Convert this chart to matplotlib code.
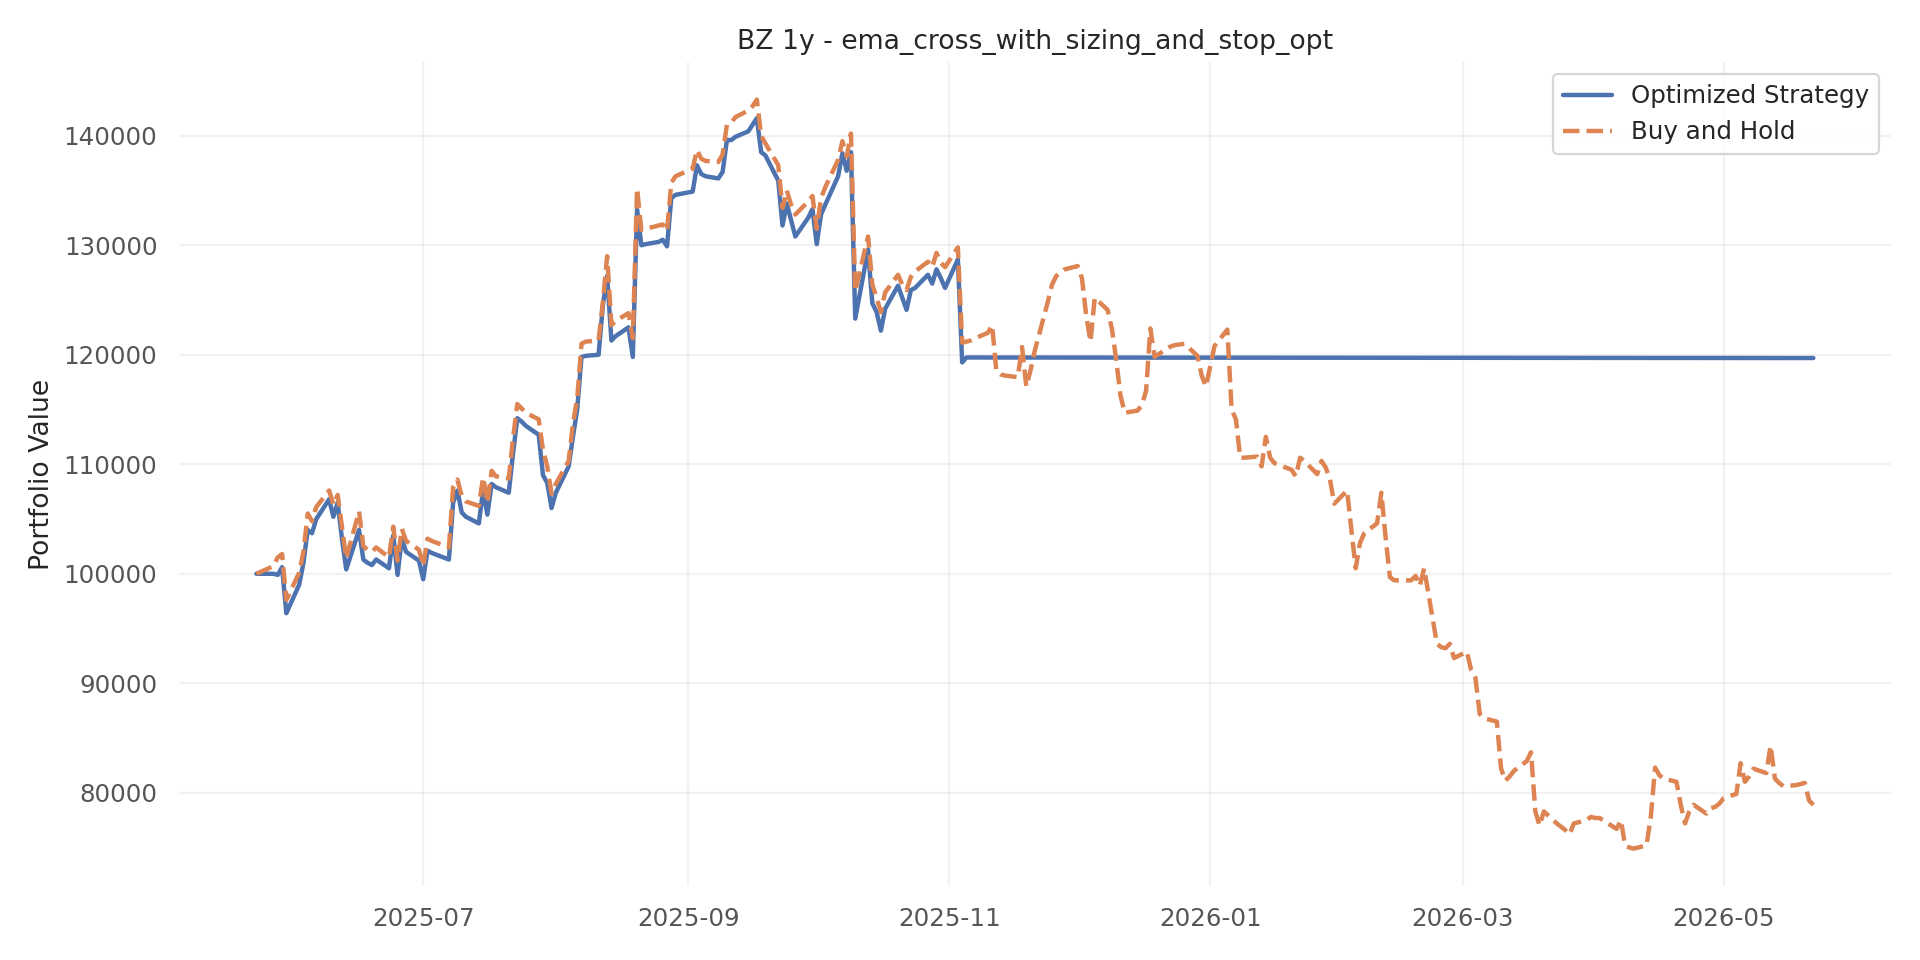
import matplotlib
matplotlib.use("Agg")
import matplotlib.pyplot as plt
import matplotlib.dates as mdates
import pandas as pd
import seaborn as sns

# ---------------- data ----------------
common_dates = [
    "2025-05-23", "2025-05-27", "2025-05-28", "2025-05-29", "2025-05-30",
    "2025-06-02", "2025-06-03", "2025-06-04", "2025-06-05", "2025-06-06",
    "2025-06-09", "2025-06-10", "2025-06-11", "2025-06-12", "2025-06-13",
    "2025-06-16", "2025-06-17", "2025-06-18", "2025-06-19", "2025-06-20",
    "2025-06-23", "2025-06-24", "2025-06-25", "2025-06-26", "2025-06-27",
    "2025-06-30", "2025-07-01", "2025-07-02", "2025-07-03", "2025-07-07",
    "2025-07-08", "2025-07-09", "2025-07-10", "2025-07-11", "2025-07-14",
    "2025-07-15", "2025-07-16", "2025-07-17", "2025-07-18", "2025-07-21",
    "2025-07-22", "2025-07-23", "2025-07-24", "2025-07-25", "2025-07-28",
    "2025-07-29", "2025-07-30", "2025-07-31", "2025-08-01", "2025-08-04",
    "2025-08-05", "2025-08-06", "2025-08-07", "2025-08-08", "2025-08-11",
    "2025-08-12", "2025-08-13", "2025-08-14", "2025-08-15", "2025-08-18",
    "2025-08-19", "2025-08-20", "2025-08-21", "2025-08-22", "2025-08-25",
    "2025-08-26", "2025-08-27", "2025-08-28", "2025-08-29", "2025-09-02",
    "2025-09-03", "2025-09-04", "2025-09-05", "2025-09-08", "2025-09-09",
    "2025-09-10", "2025-09-11", "2025-09-12", "2025-09-15", "2025-09-16",
    "2025-09-17", "2025-09-18", "2025-09-19", "2025-09-22", "2025-09-23",
    "2025-09-24", "2025-09-25", "2025-09-26", "2025-09-29", "2025-09-30",
    "2025-10-01", "2025-10-02", "2025-10-03", "2025-10-06", "2025-10-07",
    "2025-10-08", "2025-10-09", "2025-10-10", "2025-10-13", "2025-10-14",
    "2025-10-15", "2025-10-16", "2025-10-17", "2025-10-20", "2025-10-21",
    "2025-10-22", "2025-10-23", "2025-10-24", "2025-10-27", "2025-10-28",
    "2025-10-29", "2025-10-30", "2025-10-31", "2025-11-03", "2025-11-04",
    "2025-11-05",
]

strategy_common = [
    100000, 100000, 99900, 100600, 96400,
    99000, 101000, 104000, 103700, 105000,
    106800, 105200, 106500, 103200, 100400,
    104000, 101300, 101000, 100800, 101300,
    100500, 103500, 99900, 103200, 102000,
    101200, 99500, 102100, 101900, 101300,
    106500, 107600, 105600, 105200, 104600,
    107600, 105400, 108200, 107900, 107400,
    111000, 114200, 113900, 113500, 112700,
    109000, 108300, 106000, 107400, 109800,
    112500, 115000, 119800, 119900, 120000,
    124500, 127200, 121300, 121700, 122500,
    119800, 133300, 130000, 130100, 130300,
    130500, 129900, 134300, 134600, 134900,
    137300, 136500, 136300, 136100, 136700,
    139600, 139600, 139900, 140400, 141000,
    141600, 138500, 138200, 135900, 131800,
    133800, 132300, 130800, 132500, 133300,
    130100, 132800, 133700, 136300, 138400,
    136800, 138500, 123300, 129600, 124700,
    123900, 122200, 124200, 126300, 125200,
    124100, 125900, 126100, 127300, 126500,
    127800, 127000, 126100, 128700, 119300,
    119750,
]

buyhold_common = [
    100000, 100700, 101500, 101800, 97600,
    100100, 102000, 105500, 104800, 106100,
    107600, 106300, 107200, 104300, 101400,
    105700, 102500, 102200, 102000, 102400,
    101500, 104300, 101200, 104100, 103000,
    102200, 100700, 103200, 103000, 102400,
    107900, 108600, 107100, 106600, 106200,
    108800, 106500, 109400, 108900, 108700,
    112400, 115500, 115100, 114700, 114100,
    111300, 109800, 107300, 108200, 110300,
    113700, 116000, 121000, 121200, 121300,
    124800, 129000, 122700, 123100, 123800,
    121500, 135200, 131400, 131500, 131800,
    131900, 131300, 135700, 136300, 137000,
    138700, 137900, 137700, 137600, 138300,
    141000, 141200, 141700, 142300, 142700,
    143300, 140000, 139300, 137300, 133400,
    135000, 133700, 132800, 134000, 134500,
    131500, 134300, 135300, 137800, 139500,
    138100, 140200, 125800, 130800, 126400,
    125200, 123900, 125700, 127300, 126400,
    125900, 127100, 127600, 128500, 128000,
    129300, 128400, 128000, 129800, 121100,
    121200,
]

later_dates = [
    "2025-11-06", "2025-11-07", "2025-11-10", "2025-11-11", "2025-11-12",
    "2025-11-13", "2025-11-14", "2025-11-17", "2025-11-18", "2025-11-19",
    "2025-11-20", "2025-11-21", "2025-11-24", "2025-11-25", "2025-11-26",
    "2025-11-28", "2025-12-01", "2025-12-02", "2025-12-03", "2025-12-04",
    "2025-12-05", "2025-12-08", "2025-12-09", "2025-12-10", "2025-12-11",
    "2025-12-12", "2025-12-15", "2025-12-16", "2025-12-17", "2025-12-18",
    "2025-12-19", "2025-12-22", "2025-12-23", "2025-12-24", "2025-12-26",
    "2025-12-29", "2025-12-30", "2025-12-31", "2026-01-02", "2026-01-05",
    "2026-01-06", "2026-01-07", "2026-01-08", "2026-01-09", "2026-01-12",
    "2026-01-13", "2026-01-14", "2026-01-15", "2026-01-16", "2026-01-20",
    "2026-01-21", "2026-01-22", "2026-01-23", "2026-01-26", "2026-01-27",
    "2026-01-28", "2026-01-29", "2026-01-30", "2026-02-02", "2026-02-03",
    "2026-02-04", "2026-02-05", "2026-02-06", "2026-02-09", "2026-02-10",
    "2026-02-11", "2026-02-12", "2026-02-13", "2026-02-17", "2026-02-18",
    "2026-02-19", "2026-02-20", "2026-02-23", "2026-02-24", "2026-02-25",
    "2026-02-26", "2026-02-27", "2026-03-02", "2026-03-03", "2026-03-04",
    "2026-03-05", "2026-03-06", "2026-03-09", "2026-03-10", "2026-03-11",
    "2026-03-12", "2026-03-13", "2026-03-16", "2026-03-17", "2026-03-18",
    "2026-03-19", "2026-03-20", "2026-03-23", "2026-03-24", "2026-03-25",
    "2026-03-26", "2026-03-27", "2026-03-30", "2026-03-31", "2026-04-01",
    "2026-04-02", "2026-04-06", "2026-04-07", "2026-04-08", "2026-04-09",
    "2026-04-10", "2026-04-13", "2026-04-14", "2026-04-15", "2026-04-16",
    "2026-04-17", "2026-04-20", "2026-04-21", "2026-04-22", "2026-04-23",
    "2026-04-24", "2026-04-27", "2026-04-28", "2026-04-29", "2026-04-30",
    "2026-05-01", "2026-05-04", "2026-05-05", "2026-05-06", "2026-05-07",
    "2026-05-08", "2026-05-11", "2026-05-12", "2026-05-13", "2026-05-14",
    "2026-05-15", "2026-05-18", "2026-05-19", "2026-05-20", "2026-05-21",
    "2026-05-22",
]

buyhold_later = [
    121300, 121500, 122000, 122700, 118500,
    118200, 118100, 117950, 120700, 117100,
    118600, 120400, 124800, 126400, 127200,
    127800, 128100, 127000, 123600, 121200,
    125200, 124100, 122400, 119600, 116300,
    114700, 114900, 115400, 116700, 122400,
    119800, 120600, 120800, 120900, 121000,
    119900, 118100, 117100, 120800, 122300,
    115000, 114100, 110600, 110600, 110700,
    109800, 112500, 110600, 110100, 109500,
    108900, 110600, 110300, 109100, 110300,
    109700, 108600, 106400, 107600, 104000,
    100500, 102800, 103700, 104600, 107400,
    103300, 99700, 99400, 99400, 99800,
    98900, 100500, 93600, 93300, 93200,
    93600, 92300, 92900, 91200, 90500,
    87200, 86800, 86500, 82200, 81100,
    81500, 82000, 82900, 83700, 78300,
    77000, 78300, 77200, 76900, 76600,
    76200, 77200, 77500, 77800, 77700,
    77700, 76700, 77500, 75200, 75000,
    74900, 75200, 77800, 82300, 81600,
    81300, 81000, 78900, 77200, 78300,
    78900, 78100, 78600, 78700, 79000,
    79500, 79900, 82700, 81000, 81500,
    82200, 81800, 84300, 81300, 80900,
    80600, 80700, 80800, 80900, 79300,
    78900,
]

strategy_final_value = 119700
last_date = "2026-05-22"

title_text = "BZ 1y - ema_cross_with_sizing_and_stop_opt"
series_labels = ["Optimized Strategy", "Buy and Hold"]
y_label = "Portfolio Value"

# ---------------- build series ----------------
strategy_x = pd.to_datetime(common_dates + [last_date])
strategy_y = strategy_common + [strategy_final_value]
buyhold_x = pd.to_datetime(common_dates + later_dates)
buyhold_y = buyhold_common + buyhold_later

# ---------------- style ----------------
sns.set_theme(style="whitegrid")
plt.rcParams["font.family"] = ["DejaVu Sans"]

fig, ax = plt.subplots(figsize=(12, 6), dpi=160)
ax.plot(strategy_x, strategy_y, color="#4C72B0", linewidth=2,
        label=series_labels[0])
ax.plot(buyhold_x, buyhold_y, color="#DD8452", linewidth=2,
        linestyle="--", label=series_labels[1])

ax.set_title(title_text, fontsize=12, color="#262626")
ax.set_ylabel(y_label, fontsize=12, color="#262626")
ax.grid(True, alpha=0.25)
for s in ax.spines.values():
    s.set_visible(False)

ax.xaxis.set_major_locator(mdates.MonthLocator(bymonth=[1, 3, 5, 7, 9, 11]))
ax.xaxis.set_major_formatter(mdates.DateFormatter("%Y-%m"))
ax.tick_params(axis="both", labelsize=11, colors="#555555")

ax.legend(loc="upper right", fontsize=11)

fig.tight_layout()
fig.savefig("out.png", dpi=160)
